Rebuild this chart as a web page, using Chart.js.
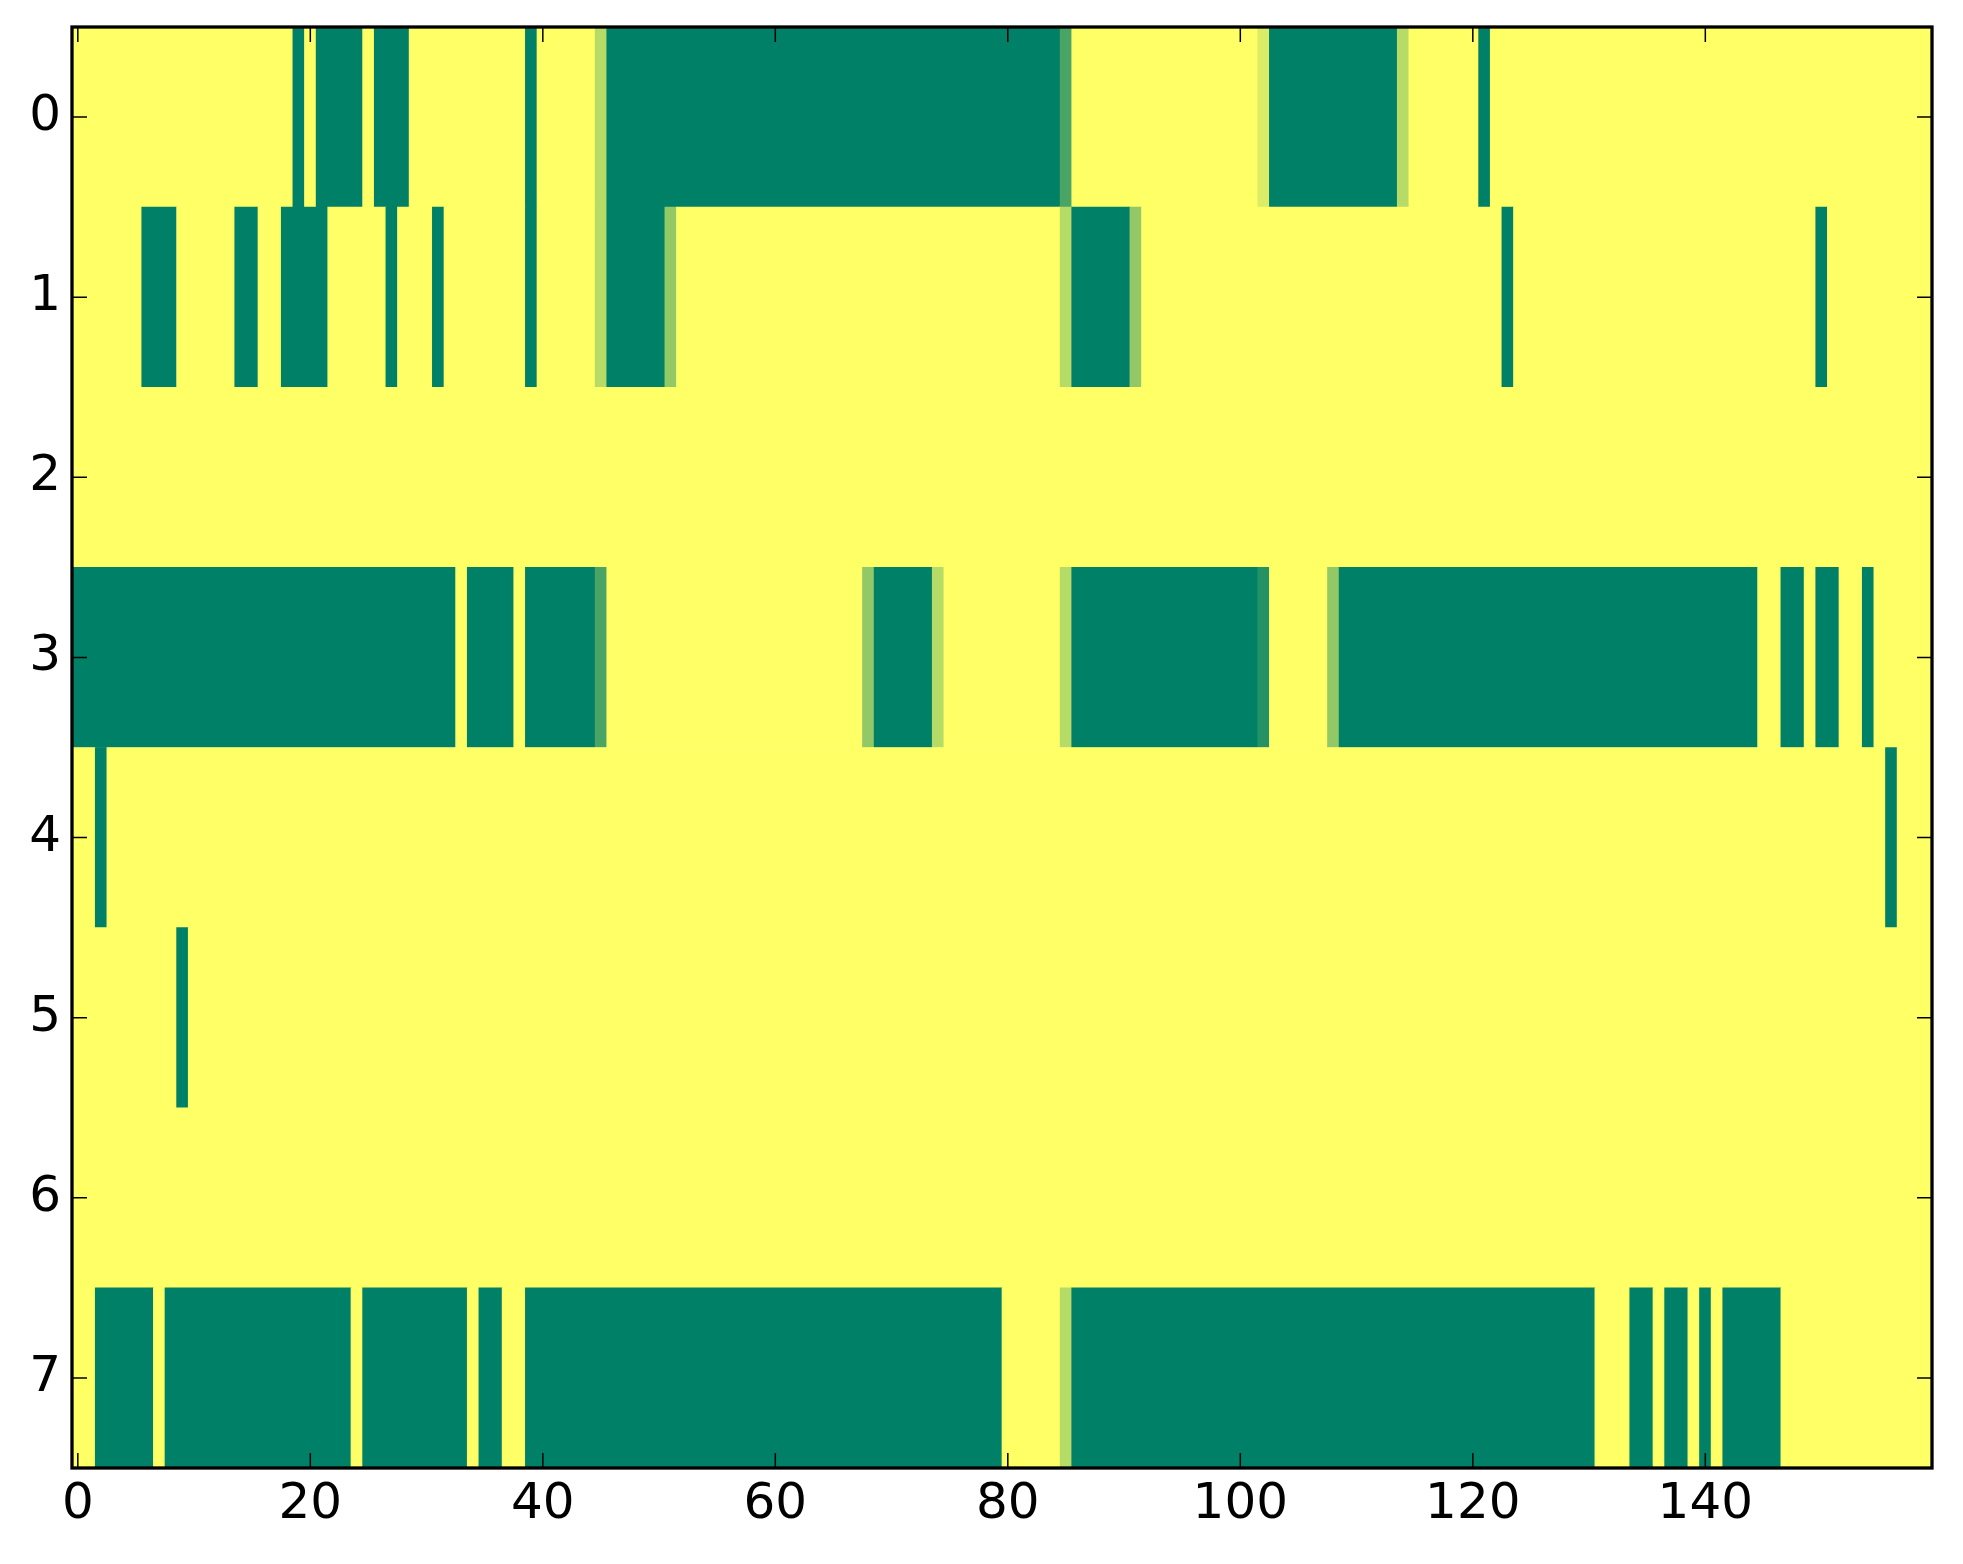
<!DOCTYPE html>
<html>
<head>
<meta charset="utf-8">
<title>heatmap</title>
<script src="https://cdn.jsdelivr.net/npm/chart.js@4.4.1/dist/chart.umd.min.js"></script>
<style>
  html, body { margin: 0; padding: 0; background: #fff; }
  canvas { display: block; }
</style>
</head>
<body>
<canvas id="heat" width="1963" height="1564"></canvas>
<script>
// cell levels, 0 = darkest green ... 7 = yellow (value = level / 7)
const LEVELS = 7;
const rowLabels = [0, 1, 2, 3, 4, 5, 6, 7];
const xTicks = [0, 20, 40, 60, 80, 100, 120, 140];

const row0 = [
  7,7,7,7,7,7,7,7,7,7, 7,7,7,7,7,7,7,7,7,0, 7,0,0,0,0,7,0,0,0,7, 7,7,7,7,7,7,7,7,7,0,
  7,7,7,7,7,5,0,0,0,0, 0,0,0,0,0,0,0,0,0,0, 0,0,0,0,0,0,0,0,0,0, 0,0,0,0,0,0,0,0,0,0,
  0,0,0,0,0,2,7,7,7,7, 7,7,7,7,7,7,7,7,7,7, 7,7,6,0,0,0,0,0,0,0, 0,0,0,0,5,7,7,7,7,7,
  7,0,7,7,7,7,7,7,7,7, 7,7,7,7,7,7,7,7,7,7, 7,7,7,7,7,7,7,7,7,7, 7,7,7,7,7,7,7,7,7,7
];
const row1 = [
  7,7,7,7,7,7,0,0,0,7, 7,7,7,7,0,0,7,7,0,0, 0,0,7,7,7,7,7,0,7,7, 7,0,7,7,7,7,7,7,7,0,
  7,7,7,7,7,5,0,0,0,0, 0,4,7,7,7,7,7,7,7,7, 7,7,7,7,7,7,7,7,7,7, 7,7,7,7,7,7,7,7,7,7,
  7,7,7,7,7,5,0,0,0,0, 0,4,7,7,7,7,7,7,7,7, 7,7,7,7,7,7,7,7,7,7, 7,7,7,7,7,7,7,7,7,7,
  7,7,7,0,7,7,7,7,7,7, 7,7,7,7,7,7,7,7,7,7, 7,7,7,7,7,7,7,7,7,7, 0,7,7,7,7,7,7,7,7,7
];
const row2 = [
  7,7,7,7,7,7,7,7,7,7, 7,7,7,7,7,7,7,7,7,7, 7,7,7,7,7,7,7,7,7,7, 7,7,7,7,7,7,7,7,7,7,
  7,7,7,7,7,7,7,7,7,7, 7,7,7,7,7,7,7,7,7,7, 7,7,7,7,7,7,7,7,7,7, 7,7,7,7,7,7,7,7,7,7,
  7,7,7,7,7,7,7,7,7,7, 7,7,7,7,7,7,7,7,7,7, 7,7,7,7,7,7,7,7,7,7, 7,7,7,7,7,7,7,7,7,7,
  7,7,7,7,7,7,7,7,7,7, 7,7,7,7,7,7,7,7,7,7, 7,7,7,7,7,7,7,7,7,7, 7,7,7,7,7,7,7,7,7,7
];
const row3 = [
  0,0,0,0,0,0,0,0,0,0, 0,0,0,0,0,0,0,0,0,0, 0,0,0,0,0,0,0,0,0,0, 0,0,0,7,0,0,0,0,7,0,
  0,0,0,0,0,2,7,7,7,7, 7,7,7,7,7,7,7,7,7,7, 7,7,7,7,7,7,7,7,4,0, 0,0,0,0,5,7,7,7,7,7,
  7,7,7,7,7,5,0,0,0,0, 0,0,0,0,0,0,0,0,0,0, 0,0,1,7,7,7,7,7,4,0, 0,0,0,0,0,0,0,0,0,0,
  0,0,0,0,0,0,0,0,0,0, 0,0,0,0,0,0,0,0,0,0, 0,0,0,0,0,7,7,0,0,7, 0,0,7,7,0,7,7,7,7,7
];
const row4 = [
  7,7,0,7,7,7,7,7,7,7, 7,7,7,7,7,7,7,7,7,7, 7,7,7,7,7,7,7,7,7,7, 7,7,7,7,7,7,7,7,7,7,
  7,7,7,7,7,7,7,7,7,7, 7,7,7,7,7,7,7,7,7,7, 7,7,7,7,7,7,7,7,7,7, 7,7,7,7,7,7,7,7,7,7,
  7,7,7,7,7,7,7,7,7,7, 7,7,7,7,7,7,7,7,7,7, 7,7,7,7,7,7,7,7,7,7, 7,7,7,7,7,7,7,7,7,7,
  7,7,7,7,7,7,7,7,7,7, 7,7,7,7,7,7,7,7,7,7, 7,7,7,7,7,7,7,7,7,7, 7,7,7,7,7,7,0,7,7,7
];
const row5 = [
  7,7,7,7,7,7,7,7,7,0, 7,7,7,7,7,7,7,7,7,7, 7,7,7,7,7,7,7,7,7,7, 7,7,7,7,7,7,7,7,7,7,
  7,7,7,7,7,7,7,7,7,7, 7,7,7,7,7,7,7,7,7,7, 7,7,7,7,7,7,7,7,7,7, 7,7,7,7,7,7,7,7,7,7,
  7,7,7,7,7,7,7,7,7,7, 7,7,7,7,7,7,7,7,7,7, 7,7,7,7,7,7,7,7,7,7, 7,7,7,7,7,7,7,7,7,7,
  7,7,7,7,7,7,7,7,7,7, 7,7,7,7,7,7,7,7,7,7, 7,7,7,7,7,7,7,7,7,7, 7,7,7,7,7,7,7,7,7,7
];
const row6 = [
  7,7,7,7,7,7,7,7,7,7, 7,7,7,7,7,7,7,7,7,7, 7,7,7,7,7,7,7,7,7,7, 7,7,7,7,7,7,7,7,7,7,
  7,7,7,7,7,7,7,7,7,7, 7,7,7,7,7,7,7,7,7,7, 7,7,7,7,7,7,7,7,7,7, 7,7,7,7,7,7,7,7,7,7,
  7,7,7,7,7,7,7,7,7,7, 7,7,7,7,7,7,7,7,7,7, 7,7,7,7,7,7,7,7,7,7, 7,7,7,7,7,7,7,7,7,7,
  7,7,7,7,7,7,7,7,7,7, 7,7,7,7,7,7,7,7,7,7, 7,7,7,7,7,7,7,7,7,7, 7,7,7,7,7,7,7,7,7,7
];
const row7 = [
  7,7,0,0,0,0,0,7,0,0, 0,0,0,0,0,0,0,0,0,0, 0,0,0,0,7,0,0,0,0,0, 0,0,0,0,7,0,0,7,7,0,
  0,0,0,0,0,0,0,0,0,0, 0,0,0,0,0,0,0,0,0,0, 0,0,0,0,0,0,0,0,0,0, 0,0,0,0,0,0,0,0,0,0,
  7,7,7,7,7,5,0,0,0,0, 0,0,0,0,0,0,0,0,0,0, 0,0,0,0,0,0,0,0,0,0, 0,0,0,0,0,0,0,0,0,0,
  0,0,0,0,0,0,0,0,0,0, 0,7,7,7,0,0,7,0,0,7, 0,7,0,0,0,0,0,7,7,7, 7,7,7,7,7,7,7,7,7,7
];
const cellRows = [row0, row1, row2, row3, row4, row5, row6, row7];

// matplotlib "summer" colormap
function summer(v) {
  return 'rgb(' + Math.round(255 * v) + ',' + Math.round(255 * (0.5 + v / 2)) + ',102)';
}

// join neighbouring cells of the same level into one floating bar (no seams)
const runs = [];
cellRows.forEach((row, r) => {
  let start = 0;
  for (let c = 1; c <= row.length; c++) {
    if (c === row.length || row[c] !== row[start]) {
      runs.push({ x: [start - 0.5, c - 0.5], y: rowLabels[r], level: row[start] });
      start = c;
    }
  }
});

const nCols = row0.length;
const font = { family: 'DejaVu Sans', size: 50 };
const TICK = 15;

// box round the axes and inward ticks on all four sides
const frame = {
  id: 'frame',
  afterDraw(chart) {
    const { ctx, chartArea: a, scales } = chart;
    ctx.save();
    ctx.strokeStyle = '#000';
    ctx.lineWidth = 1.5;
    ctx.beginPath();
    xTicks.forEach(v => {
      const px = scales.x.getPixelForValue(v);
      ctx.moveTo(px, a.bottom); ctx.lineTo(px, a.bottom - TICK);
      ctx.moveTo(px, a.top); ctx.lineTo(px, a.top + TICK);
    });
    rowLabels.forEach(v => {
      const py = scales.y.getPixelForValue(v);
      ctx.moveTo(a.left, py); ctx.lineTo(a.left + TICK, py);
      ctx.moveTo(a.right, py); ctx.lineTo(a.right - TICK, py);
    });
    ctx.stroke();
    ctx.lineWidth = 3.3;
    ctx.strokeRect(a.left, a.top, a.right - a.left, a.bottom - a.top);
    ctx.restore();
  }
};

new Chart(document.getElementById('heat').getContext('2d'), {
  type: 'bar',
  data: {
    datasets: [{
      data: runs,
      backgroundColor: runs.map(d => summer(d.level / LEVELS)),
      borderWidth: 0,
      borderSkipped: false,
      barPercentage: 1,
      categoryPercentage: 1
    }]
  },
  options: {
    indexAxis: 'y',
    responsive: false,
    animation: false,
    devicePixelRatio: 1,
    layout: { padding: { top: 27, right: 31, left: 0, bottom: 0 } },
    plugins: { legend: { display: false }, tooltip: { enabled: false } },
    scales: {
      x: {
        type: 'linear',
        position: 'bottom',
        min: -0.5,
        max: nCols - 0.5,
        offset: false,
        grid: { display: false, drawTicks: false },
        border: { display: false },
        ticks: { font, color: '#000', padding: 7, autoSkip: false, maxRotation: 0 },
        afterBuildTicks: s => { s.ticks = xTicks.map(v => ({ value: v })); },
        afterFit: s => { s.height = 96; s.paddingLeft = 0; s.paddingRight = 0; }
      },
      y: {
        type: 'linear',
        reverse: true,
        min: -0.5,
        max: rowLabels.length - 0.5,
        offset: false,
        grid: { display: false, drawTicks: false },
        border: { display: false },
        ticks: { font, color: '#000', padding: 11, autoSkip: false },
        afterBuildTicks: s => { s.ticks = rowLabels.map(v => ({ value: v })); },
        afterFit: s => { s.width = 72; s.paddingTop = 0; s.paddingBottom = 0; }
      }
    }
  },
  plugins: [frame]
});
</script>
</body>
</html>
